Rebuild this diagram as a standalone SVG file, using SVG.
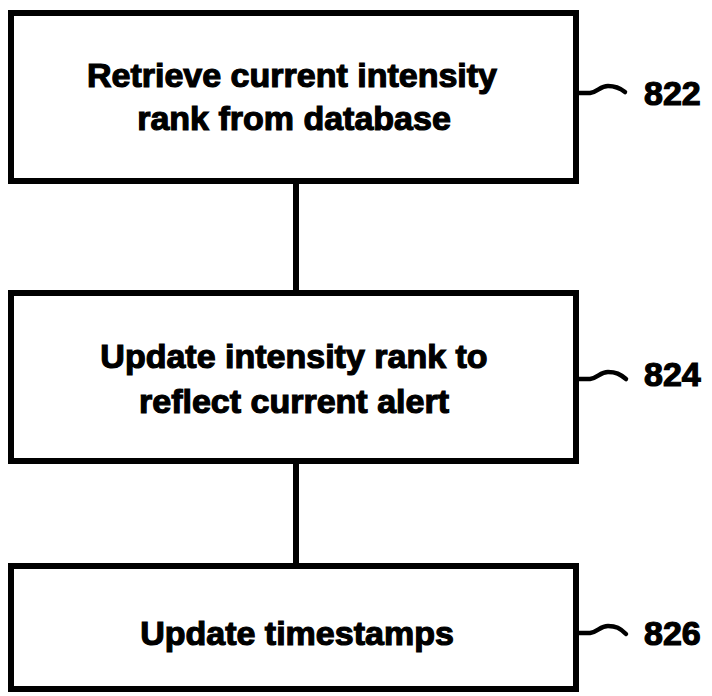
<svg xmlns="http://www.w3.org/2000/svg" width="712" height="696" viewBox="0 0 712 696">
<style>
.box{fill:#fff;stroke:#000;stroke-width:6}
.t{font-family:"Liberation Sans",Arial,sans-serif;font-weight:bold;font-size:34px;text-anchor:middle;fill:#000;stroke:#000;stroke-width:1.2}
.ref{font-family:"Liberation Sans",Arial,sans-serif;font-weight:bold;font-size:34px;fill:#000;stroke:#000;stroke-width:1.2}
.c{stroke:#000;stroke-width:6;fill:none}
.sq{stroke:#000;stroke-width:4.5;fill:none;stroke-linecap:round}
</style>
<rect width="712" height="696" fill="#fff"/>
<g id="connectors">
<line class="c" x1="296" y1="181" x2="296" y2="293"/>
<line class="c" x1="296" y1="461" x2="296" y2="566"/>
</g>
<g id="n822">
<rect class="box" x="11" y="13" width="565" height="168"/>
<text class="t" x="292" y="87">Retrieve current intensity</text>
<text class="t" x="294" y="130">rank from database</text>
<path class="sq" d="M578 93 L590 93 C598 92 600 86 608 86 C616 86 620 88 625 92"/>
<text class="ref" x="644" y="105">822</text>
</g>
<g id="n824">
<rect class="box" x="11" y="293" width="565" height="168"/>
<text class="t" x="294" y="368">Update intensity rank to</text>
<text class="t" x="294" y="413">reflect current alert</text>
<path class="sq" d="M578 379 L590 379 C598 378 600 372 608 372 C616 372 620 374 626 379"/>
<text class="ref" x="644" y="386">824</text>
</g>
<g id="n826">
<rect class="box" x="11" y="566" width="565" height="123"/>
<text class="t" x="297" y="645">Update timestamps</text>
<path class="sq" d="M578 633 L590 633 C598 632 600 626 608 626 C616 626 620 628 626 634"/>
<text class="ref" x="644" y="645">826</text>
</g>
</svg>
